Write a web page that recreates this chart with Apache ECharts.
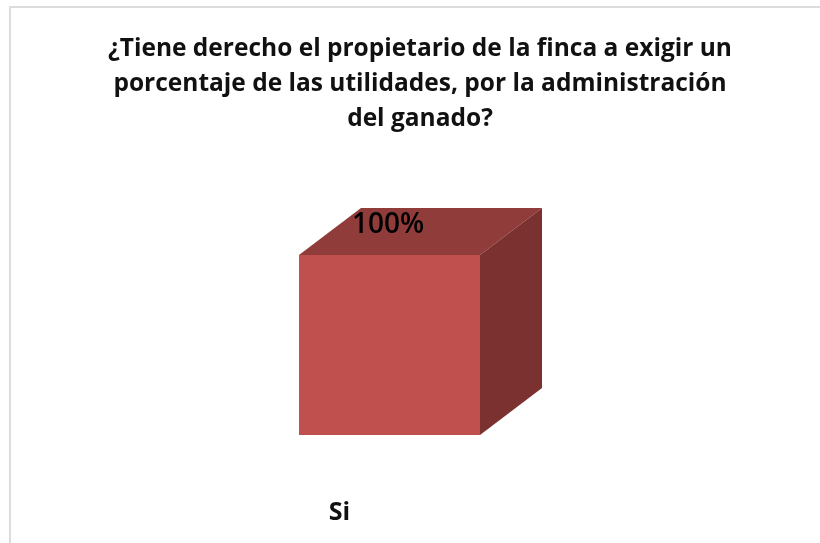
<!DOCTYPE html>
<html>
<head>
<meta charset="utf-8">
<style>
  html, body { margin: 0; padding: 0; background: #fff; }
  #chart { width: 820px; height: 543px; }
</style>
<script src="https://cdn.jsdelivr.net/npm/echarts@6/dist/echarts.min.js"></script>
</head>
<body>
<div id="chart"></div>
<script>
const categories = ["Si"];
const values = [100];
const titleText = "¿Tiene derecho el propietario de la finca a exigir un\nporcentaje de las utilidades, por la administración\ndel ganado?";

const fontName = "'Open Sans', 'Noto Sans', sans-serif";
const depthX = 62;
const depthY = 47;

// caja 3d: frente, tapa y lateral
function renderCube(params, api) {
  const top = api.coord([api.value(0), api.value(1)]);
  const base = api.coord([api.value(0), 0]);
  const w = api.size([1, 0])[0];
  const x0 = top[0] - w / 2;
  const x1 = top[0] + w / 2;
  const y0 = top[1];
  const y1 = base[1];
  return {
    type: "group",
    children: [
      {
        type: "polygon",
        shape: { points: [[x0, y0], [x1, y0], [x1 + depthX, y0 - depthY], [x0 + depthX, y0 - depthY]] },
        style: { fill: "#8f3c3a" }
      },
      {
        type: "polygon",
        shape: { points: [[x1, y0], [x1 + depthX, y0 - depthY], [x1 + depthX, y1 - depthY], [x1, y1]] },
        style: { fill: "#7b312f" }
      },
      {
        type: "rect",
        shape: { x: x0, y: y0, width: x1 - x0, height: y1 - y0 },
        style: { fill: "#c0504d" }
      },
      {
        type: "text",
        x: x0 + 89,
        y: y0 - 30,
        style: {
          text: api.value(1) + "%",
          fill: "#000",
          font: "600 28px " + fontName,
          align: "center",
          verticalAlign: "middle"
        }
      }
    ]
  };
}

const chart = echarts.init(document.getElementById("chart"));
chart.setOption({
  backgroundColor: "#fff",
  animation: false,
  title: {
    text: titleText,
    left: 415,
    top: 27,
    textAlign: "center",
    textStyle: {
      fontFamily: fontName,
      fontSize: 24.5,
      fontWeight: "bold",
      color: "#111",
      lineHeight: 35
    }
  },
  grid: { left: 299, top: 255, width: 181, height: 180 },
  xAxis: {
    type: "category",
    data: categories,
    axisLine: { show: false },
    axisTick: { show: false },
    axisLabel: {
      margin: 65,
      padding: [0, 100, 0, 0],
      fontFamily: fontName,
      fontSize: 25,
      fontWeight: "bold",
      color: "#111"
    }
  },
  yAxis: { type: "value", min: 0, max: 100, show: false },
  series: [
    {
      type: "custom",
      renderItem: renderCube,
      data: values.map((v, i) => [i, v]),
      encode: { x: 0, y: 1 }
    }
  ],
  graphic: [
    { type: "rect", shape: { x: 9, y: 6, width: 811, height: 2 }, style: { fill: "#dcdcdc" } },
    { type: "rect", shape: { x: 9, y: 6, width: 2, height: 537 }, style: { fill: "#dcdcdc" } }
  ]
});
</script>
</body>
</html>
